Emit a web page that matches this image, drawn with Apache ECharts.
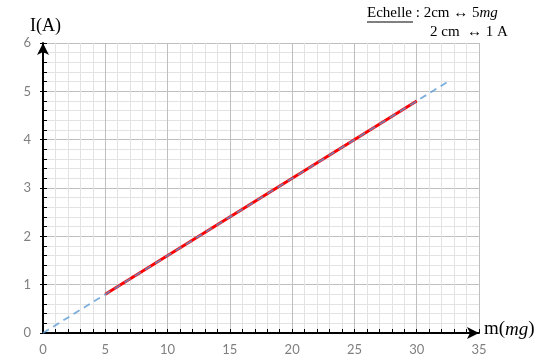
<!DOCTYPE html>
<html>
<head>
<meta charset="utf-8">
<script src="https://cdn.jsdelivr.net/npm/echarts@6/dist/echarts.min.js"></script>
<style>
  html, body { margin: 0; padding: 0; background: #fff; }
  #chart { width: 547px; height: 360px; }
</style>
</head>
<body>
<div id="chart"></div>
<script>
// Measured points: mass (mg) vs current (A)
const massMeasured = [5, 30];
const currentMeasured = [0.8, 4.8];
// Extrapolated trend line through the origin
const massTrend = [0, 32.5];
const currentTrend = [0, 5.2];

const xTicks = [0, 5, 10, 15, 20, 25, 30, 35];
const yTicks = [0, 1, 2, 3, 4, 5, 6];

const serif = '"Liberation Serif", "DejaVu Serif", serif';
const chart = echarts.init(document.getElementById('chart'));

const baseX = {
  type: 'value', min: xTicks[0], max: xTicks[xTicks.length - 1], interval: 5
};
const baseY = {
  type: 'value', min: yTicks[0], max: yTicks[yTicks.length - 1], interval: 1
};

chart.setOption({
  animation: false,
  grid: { left: 43, right: 68, top: 43, bottom: 27, containLabel: false },
  xAxis: [
    Object.assign({}, baseX, {
      axisLine: { show: true, lineStyle: { color: '#000', width: 2 },
        symbol: ['none', 'arrow'], symbolSize: [9, 12], symbolOffset: [0, 0] },
      axisTick: { show: true, inside: true, length: 4, lineStyle: { color: '#000', width: 1 } },
      minorTick: { show: true, splitNumber: 5, length: 4, lineStyle: { color: '#000', width: 1 } },
      axisLabel: { color: '#7f7f7f', fontSize: 13, margin: 10, fontFamily: 'Lato, sans-serif' },
      splitLine: { show: true, lineStyle: { color: '#bfbfbf', width: 1 } },
      minorSplitLine: { show: true, lineStyle: { color: '#e3e3e3', width: 1 } }
    }),
    Object.assign({}, baseX, {
      axisLine: { show: false },
      axisTick: { show: true, inside: false, length: 3, lineStyle: { color: '#000', width: 1 } },
      axisLabel: { show: false },
      splitLine: { show: false }
    })
  ],
  yAxis: [
    Object.assign({}, baseY, {
      axisLine: { show: true, lineStyle: { color: '#000', width: 2 },
        symbol: ['none', 'arrow'], symbolSize: [9, 12] },
      axisTick: { show: true, inside: true, length: 4, lineStyle: { color: '#000', width: 1 } },
      minorTick: { show: true, splitNumber: 5, length: 4, lineStyle: { color: '#000', width: 1 } },
      axisLabel: { color: '#7f7f7f', fontSize: 13, margin: 12, fontFamily: 'Lato, sans-serif' },
      splitLine: { show: true, lineStyle: { color: '#bfbfbf', width: 1 } },
      minorSplitLine: { show: true, lineStyle: { color: '#e3e3e3', width: 1 } }
    }),
    Object.assign({}, baseY, {
      position: 'left',
      axisLine: { show: false },
      axisTick: { show: true, inside: false, length: 3, lineStyle: { color: '#000', width: 1 } },
      axisLabel: { show: false },
      splitLine: { show: false }
    })
  ],
  series: [
    {
      type: 'line', name: 'mesures',
      data: massMeasured.map((m, i) => [m, currentMeasured[i]]),
      showSymbol: false, symbol: 'none',
      lineStyle: { color: '#ff0000', width: 3 }, z: 3
    },
    {
      type: 'line', name: 'tendance',
      data: massTrend.map((m, i) => [m, currentTrend[i]]),
      showSymbol: false, symbol: 'none',
      lineStyle: { color: '#5b9bd5', width: 1.8, type: [7, 5], opacity: 0.8 }, z: 4
    }
  ],
  graphic: [
    { type: 'text', left: 30, top: 17,
      style: { text: 'I(A)', font: '18px ' + serif, fill: '#000' } },
    { type: 'text', left: 484, top: 320,
      style: {
        text: '{u|m(}{i|mg}{u|)}',
        rich: {
          u: { font: '19px ' + serif, fill: '#000' },
          i: { font: 'italic 19px ' + serif, fill: '#000' }
        }
      } },
    { type: 'text', left: 367, top: 6,
      style: {
        text: '{u|Echelle} : 2cm ↔ 5{i|mg}',
        font: '15px ' + serif, fill: '#000',
        rich: {
          u: { font: '15px ' + serif, fill: '#000' },
          i: { font: 'italic 15px ' + serif, fill: '#000' }
        }
      } },
    { type: 'line', shape: { x1: 367, y1: 22, x2: 413, y2: 22 },
      style: { stroke: '#000', lineWidth: 1 } },
    { type: 'text', left: 430, top: 25,
      style: {
        text: '2 cm  ↔ 1 A',
        font: '15px ' + serif, fill: '#000'
      } }
  ]
});
</script>
</body>
</html>
